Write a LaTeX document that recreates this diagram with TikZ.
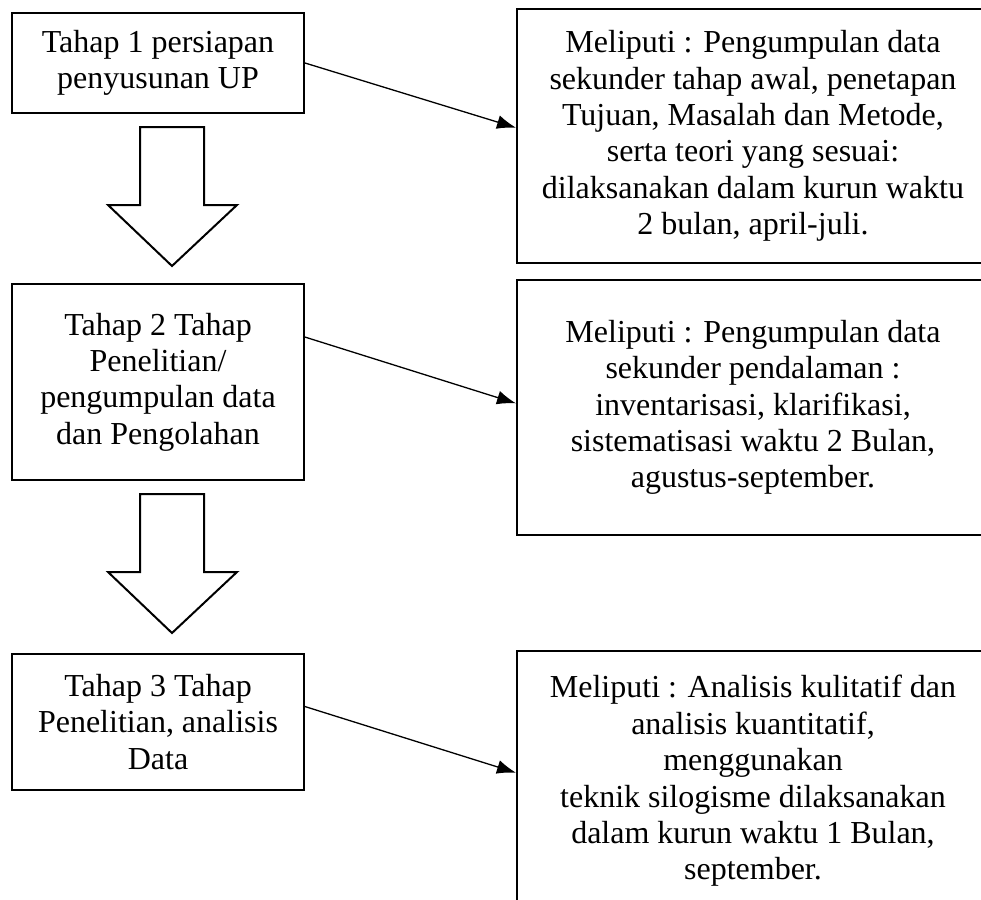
\documentclass[tikz,border=0pt]{standalone}
\usepackage{fontspec}
\setmainfont{Liberation Serif}
\usetikzlibrary{arrows.meta,calc}
\def\panahbesar#1{\draw[besar] ($(#1.south)+(-18,13)$) -- ++(0,78) -- ++(-32,0) -- ++(64,61) -- ++(65,-61) -- ++(-33,0) -- ++(0,-78) -- cycle;}

\begin{document}
\begin{tikzpicture}[x=0.5pt,y=-0.5pt,
    tahap/.style={draw,line width=1pt,align=center,inner sep=0pt,minimum width=146pt,font=\fontsize{16}{18.2}\selectfont},
    ket/.style={draw,line width=1pt,align=center,inner sep=0pt,minimum width=236pt,font=\fontsize{16}{18.2}\selectfont},
    panah/.style={-{Latex[length=9.5pt,width=7pt]},line width=0.65pt},
    besar/.style={line width=1pt,fill=white}]
\useasboundingbox (0,0) rectangle (981,900);
\clip (0,0) rectangle (981,900);
      \node [tahap,minimum height=50pt] at (158,63) (t1) {Tahap 1 persiapan\\penyusunan UP};
       \node [tahap,minimum height=98pt] at (158,382) (t2) {Tahap 2 Tahap\\Penelitian/\\pengumpulan data\\dan Pengolahan};
        \node [tahap,minimum height=68pt] at (158,722) (t3) {Tahap 3 Tahap\\Penelitian, analisis\\Data};
      \node [ket,minimum height=127pt] at (753,136) (k1) {Meliputi : Pengumpulan data\\sekunder tahap awal, penetapan\\Tujuan, Masalah dan Metode,\\serta teori yang sesuai:\\dilaksanakan dalam kurun waktu\\2 bulan, april-juli.};
       \node [ket,minimum height=127.5pt] at (753,407.5) (k2) {Meliputi : Pengumpulan data\\sekunder pendalaman :\\inventarisasi, klarifikasi,\\sistematisasi waktu 2 Bulan,\\agustus-september.};
        \node [ket,minimum height=130pt] at (753,781) (k3) {Meliputi : Analisis kulitatif dan\\analisis kuantitatif,\\menggunakan\\teknik silogisme dilaksanakan\\dalam kurun waktu 1 Bulan,\\september.};
%
%
\panahbesar{t1}
\panahbesar{t2}
\path[panah] (t1.east) edge (k1.178);
\path[panah] (t2.17) edge (k2.179);
\path[panah] (t3.6) edge (k3.178);

\end{tikzpicture}
\end{document}
